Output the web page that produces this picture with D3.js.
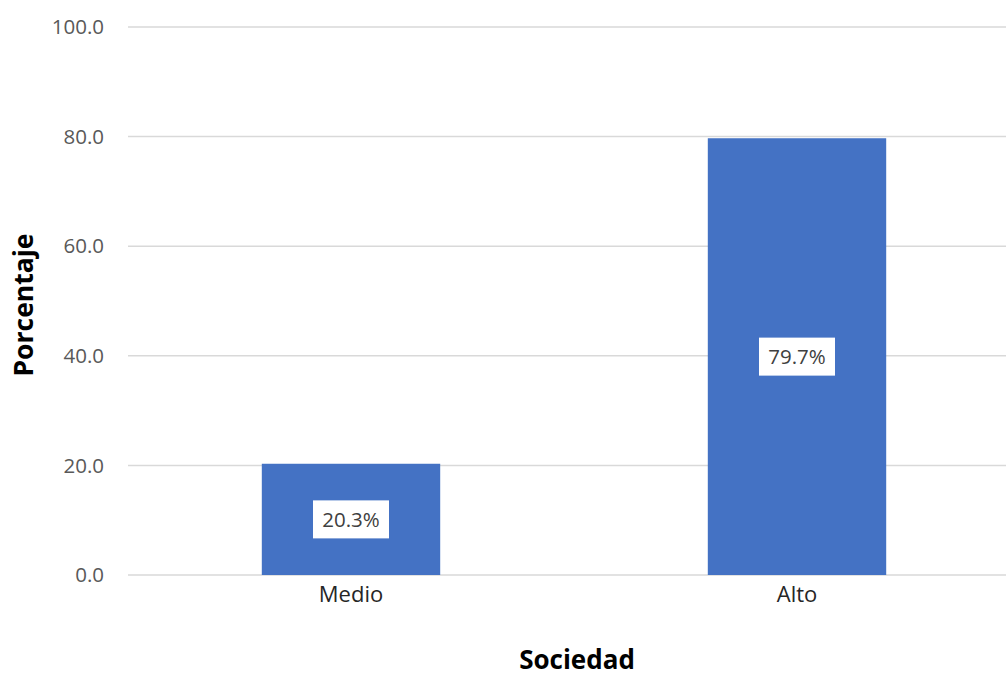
<!DOCTYPE html>
<html><head><meta charset="utf-8">
<script src="https://cdn.jsdelivr.net/npm/d3@7"></script>
<style>body{margin:0;background:#fff;} svg{display:block;}</style>
</head><body>
<svg id="c" width="1006" height="677"></svg>
<script>
const categories = ["Medio", "Alto"];
const values = [20.3, 79.7];
const yTicks = [0, 20, 40, 60, 80, 100];
const xTitle = "Sociedad";
const yTitle = "Porcentaje";

const svg = d3.select("#c");
const font = "'Open Sans', 'Noto Sans', sans-serif";
const mLeft = 128, mRight = 1020, mTop = 27, mBottom = 575;

const x = d3.scaleBand().domain(categories).range([mLeft, mRight]).paddingInner(0.6).paddingOuter(0.3);
const y = d3.scaleLinear().domain([0, 100]).range([mBottom, mTop]);

// gridlines
svg.append("g").selectAll("line").data(yTicks).join("line")
  .attr("x1", mLeft).attr("x2", mRight)
  .attr("y1", d => y(d)).attr("y2", d => y(d))
  .attr("stroke", "#d9d9d9").attr("stroke-width", 1.5);

// y tick labels
svg.append("g").selectAll("text").data(yTicks).join("text")
  .attr("x", 104).attr("y", d => y(d)).attr("dy", "0.35em")
  .attr("text-anchor", "end").attr("font-family", font).attr("font-size", 20.5)
  .attr("fill", "#595959").text(d => d.toFixed(1));

// bars
svg.append("g").selectAll("rect").data(values).join("rect")
  .attr("x", (d, i) => x(categories[i])).attr("width", x.bandwidth())
  .attr("y", d => y(d)).attr("height", d => y(0) - y(d))
  .attr("fill", "#4472c4");

// data labels
const lbl = svg.append("g").selectAll("g").data(values).join("g")
  .attr("transform", (d, i) => `translate(${x(categories[i]) + x.bandwidth() / 2},${(y(d) + y(0)) / 2})`);
lbl.append("rect").attr("x", -38).attr("y", -19).attr("width", 76).attr("height", 38).attr("fill", "#fff");
lbl.append("text").attr("text-anchor", "middle").attr("dy", "0.35em")
  .attr("font-family", font).attr("font-size", 20.5).attr("fill", "#404040")
  .text(d => d.toFixed(1) + "%");

// category labels
svg.append("g").selectAll("text").data(categories).join("text")
  .attr("x", d => x(d) + x.bandwidth() / 2).attr("y", 594).attr("dy", "0.35em")
  .attr("text-anchor", "middle").attr("font-family", font).attr("font-size", 22)
  .attr("fill", "#262626").text(d => d);

// axis titles
svg.append("text").attr("x", 577).attr("y", 669).attr("text-anchor", "middle")
  .attr("font-family", font).attr("font-size", 26).attr("font-weight", "bold")
  .attr("fill", "#000").text(xTitle);
svg.append("text").attr("transform", `translate(33,${(mTop + mBottom) / 2 + 4}) rotate(-90)`)
  .attr("text-anchor", "middle")
  .attr("font-family", font).attr("font-size", 26.5).attr("font-weight", "bold")
  .attr("fill", "#000").text(yTitle);
</script>
</body></html>
